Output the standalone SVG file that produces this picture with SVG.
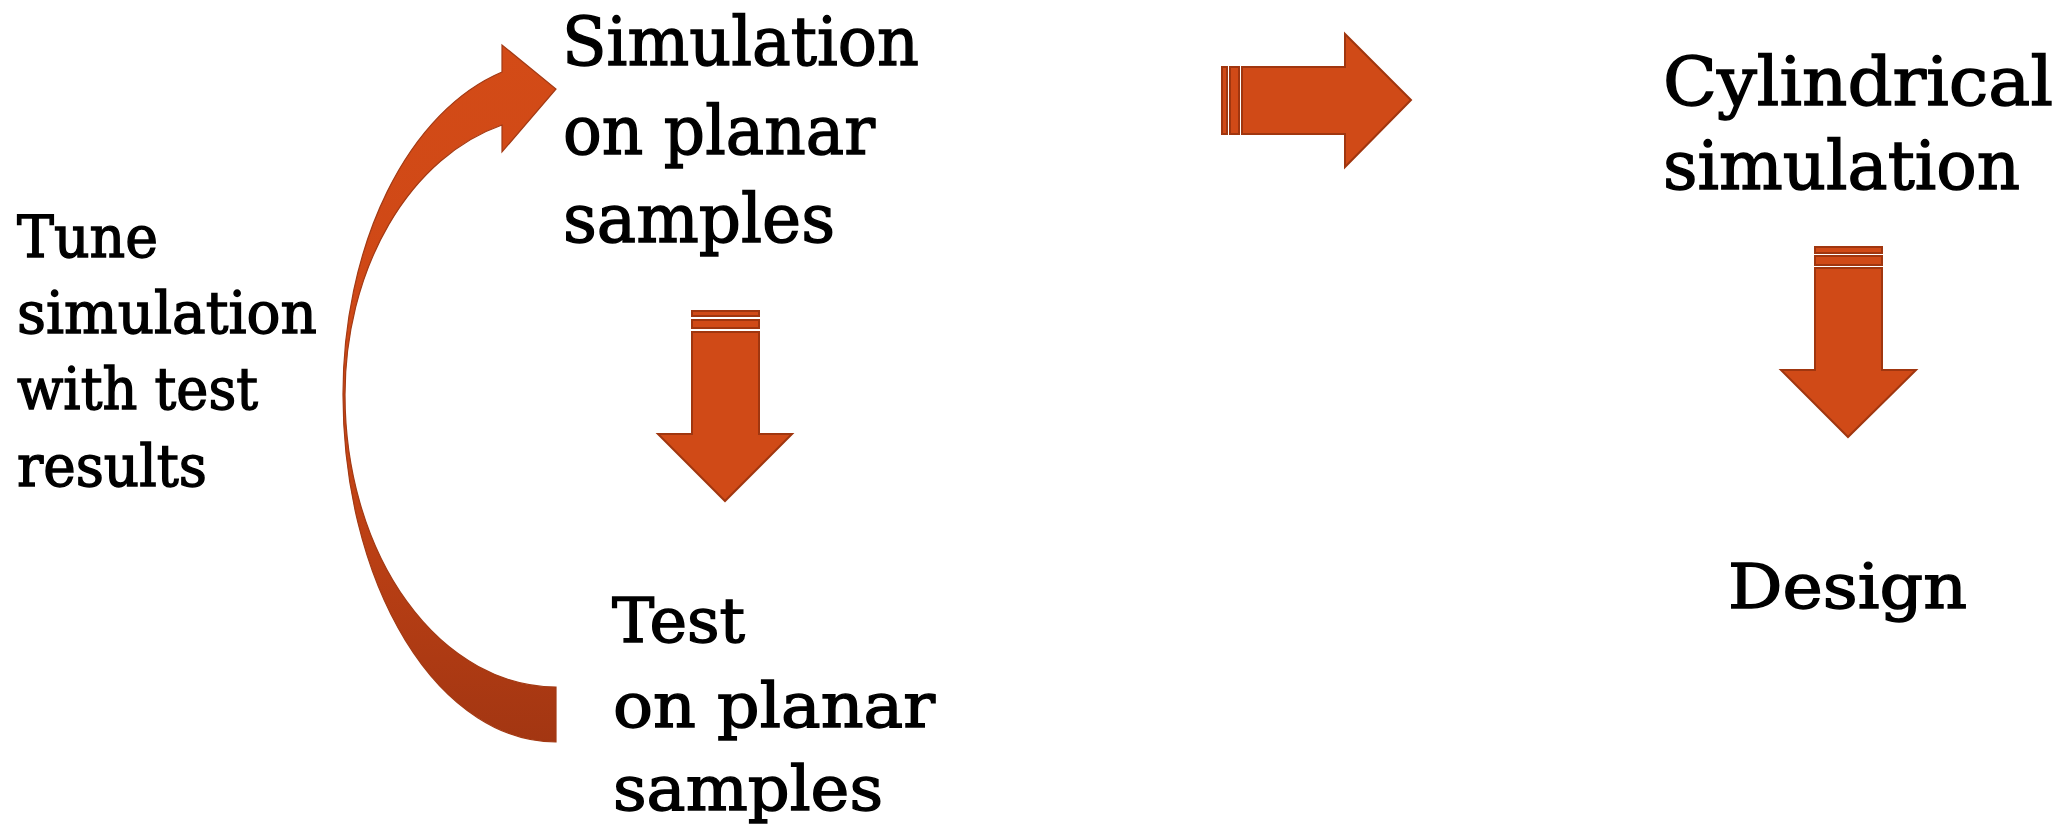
<svg xmlns="http://www.w3.org/2000/svg" width="2066" height="837" viewBox="0 0 2066 837">
<defs>
<linearGradient id="curveGrad" x1="0" y1="0" x2="0" y2="1">
<stop offset="0" stop-color="#D34B17"/>
<stop offset="0.5" stop-color="#CD4716"/>
<stop offset="1" stop-color="#A33612"/>
</linearGradient>
</defs>
<style>
.arrow { fill: #D04A17; stroke: #A0360F; stroke-width: 2; stroke-linejoin: miter; }
.curve { fill: url(#curveGrad); stroke: #A33A14; stroke-width: 1.2; }
.t { font-family: "DejaVu Serif", "Liberation Serif", serif; fill: #000; stroke: #000; stroke-width: 1.4; }
.big { font-size: 68px; }
.mid { font-size: 62px; }
.small { font-size: 57px; }
</style>
<rect width="2066" height="837" fill="#FFFFFF"/>

<g id="connectors">
  <g id="curved-arrow">
    <path class="curve" d="M 556 742 A 213 347 0 0 1 343 395 A 216 334 0 0 1 502 72 L 502 45 L 556 89 L 502 152 L 502 125 A 211 279 0 0 0 345 395 A 211 292 0 0 0 556 687 Z"/>
  </g>
  <g id="down-arrow-1">
    <rect class="arrow" x="692" y="311" width="67" height="5"/>
    <rect class="arrow" x="692" y="320" width="67" height="8"/>
    <path class="arrow" d="M 692 332 L 759 332 L 759 434 L 792 434 L 725 501 L 658 434 L 692 434 Z"/>
  </g>
  <g id="right-arrow">
    <rect class="arrow" x="1222" y="67" width="5" height="67"/>
    <rect class="arrow" x="1230" y="67" width="9" height="67"/>
    <path class="arrow" d="M 1242 67 L 1345 67 L 1345 34 L 1411 100 L 1345 167 L 1345 134 L 1242 134 Z"/>
  </g>
  <g id="down-arrow-2">
    <rect class="arrow" x="1815" y="247" width="67" height="6"/>
    <rect class="arrow" x="1815" y="256" width="67" height="9"/>
    <path class="arrow" d="M 1815 268 L 1882 268 L 1882 370 L 1916 370 L 1848 437 L 1781 370 L 1815 370 Z"/>
  </g>
</g>

<g id="node-tune">
  <text class="t small" x="17" y="257" textLength="141" lengthAdjust="spacingAndGlyphs">Tune</text>
  <text class="t small" x="17" y="333" textLength="300" lengthAdjust="spacingAndGlyphs">simulation</text>
  <text class="t small" x="17" y="409" textLength="241" lengthAdjust="spacingAndGlyphs">with test</text>
  <text class="t small" x="17" y="486" textLength="190" lengthAdjust="spacingAndGlyphs">results</text>
</g>

<g id="node-simulation-planar">
  <text class="t big" x="562" y="65" textLength="357" lengthAdjust="spacingAndGlyphs">Simulation</text>
  <text class="t big" x="563" y="154" textLength="312" lengthAdjust="spacingAndGlyphs">on planar</text>
  <text class="t big" x="563" y="242" textLength="272" lengthAdjust="spacingAndGlyphs">samples</text>
</g>

<g id="node-test-planar">
  <text class="t mid" x="612" y="642" textLength="133" lengthAdjust="spacingAndGlyphs">Test</text>
  <text class="t mid" x="613" y="727" textLength="322" lengthAdjust="spacingAndGlyphs">on planar</text>
  <text class="t mid" x="613" y="810" textLength="270" lengthAdjust="spacingAndGlyphs">samples</text>
</g>

<g id="node-cylindrical">
  <text class="t big" x="1663" y="105" textLength="390" lengthAdjust="spacingAndGlyphs">Cylindrical</text>
  <text class="t big" x="1663" y="189" textLength="357" lengthAdjust="spacingAndGlyphs">simulation</text>
</g>

<g id="node-design">
  <text class="t mid" x="1728" y="608" textLength="239" lengthAdjust="spacingAndGlyphs">Design</text>
</g>
</svg>
